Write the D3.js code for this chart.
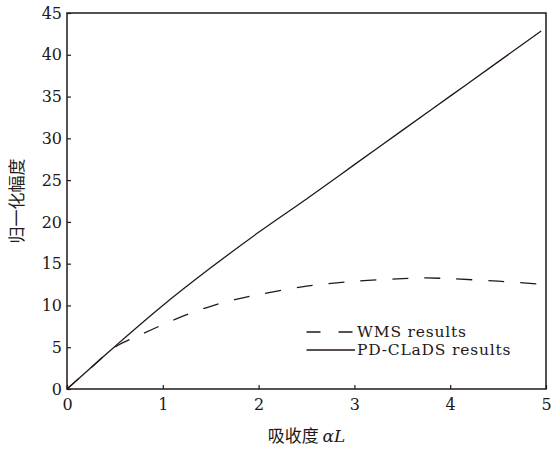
<!DOCTYPE html>
<html><head><meta charset="utf-8">
<script src="https://d3js.org/d3.v7.min.js"></script>
<style>body{margin:0;background:#fff} .num{font-family:"DejaVu Serif",serif}</style>
</head><body><div id="c"></div>
<script>
const alphaL = [0,0.25,0.5,0.75,1,1.25,1.5,1.75,2,2.5,3,3.5,3.75,4,4.5,5];
const wms    = [0,2.55,5.0,6.4,7.7,8.9,9.9,10.7,11.3,12.3,12.9,13.2,13.3,13.2,12.9,12.5];
const pdX    = [0,0.5,1,1.5,2,2.5,3,3.5,4,4.5,4.95];
const pdY    = [0,5.1,10.0,14.5,18.75,22.75,26.85,30.95,35.05,39.15,42.85];
const xTicks = [0,1,2,3,4,5];
const yTicks = [0,5,10,15,20,25,30,35,40,45];
const legendLabels = ["WMS results","PD-CLaDS results"];

const W=552,H=449, m={l:67,r:6,t:13,b:60};
const ink="#231815";
const svg=d3.select("#c").append("svg").attr("width",W).attr("height",H);
const x=d3.scaleLinear().domain([0,5]).range([m.l,W-m.r]);
const y=d3.scaleLinear().domain([0,45]).range([H-m.b,m.t]);
const num="DejaVu Serif";

svg.append("rect").attr("x",x(0)).attr("y",y(45)).attr("width",x(5)-x(0)).attr("height",y(0)-y(45))
  .attr("fill","none").attr("stroke",ink).attr("stroke-width",1.5);

const xa=svg.append("g").attr("transform",`translate(0,${y(0)})`)
  .call(d3.axisBottom(x).tickValues(xTicks).tickFormat(d3.format("d")).tickSizeInner(-4).tickSizeOuter(0).tickPadding(10));
const ya=svg.append("g").attr("transform",`translate(${x(0)},0)`)
  .call(d3.axisLeft(y).tickValues(yTicks).tickFormat(d3.format("d")).tickSizeInner(-4).tickSizeOuter(0).tickPadding(5));
[xa,ya].forEach(g=>{
  g.attr("font-family",num).attr("font-size",16);
  g.select(".domain").remove();
  g.selectAll("line").attr("stroke",ink).attr("stroke-width",1.2);
  g.selectAll("text").attr("fill",ink).attr("class","num");
});
xa.selectAll("text").attr("dy","0.71em");

const line=d3.line().x(d=>x(d[0])).y(d=>y(d[1])).curve(d3.curveCatmullRom);
svg.append("path").datum(d3.zip(pdX,pdY)).attr("d",line)
  .attr("fill","none").attr("stroke",ink).attr("stroke-width",1.3);
svg.append("path").datum(d3.zip(alphaL,wms)).attr("d",line)
  .attr("fill","none").attr("stroke",ink).attr("stroke-width",1.3).attr("stroke-dasharray","16,16");

const lg=svg.append("g").attr("font-family",num).attr("font-size",15.5);
const rows=[{y:332,dash:"14,18"},{y:350,dash:null}];
rows.forEach((r,i)=>{
  lg.append("line").attr("x1",306.5).attr("x2",355).attr("y1",r.y).attr("y2",r.y)
    .attr("stroke",ink).attr("stroke-width",1.3).attr("stroke-dasharray",r.dash);
  lg.append("text").attr("class","num").attr("x",357).attr("y",r.y).attr("dy","0.35em").text(legendLabels[i])
    .attr("fill",ink).attr("letter-spacing",0.8);
});

const xt=svg.append("text").attr("x",(x(0)+x(5))/2).attr("y",436).attr("dy","0.35em")
  .attr("text-anchor","middle").attr("fill",ink).attr("font-size",17);
xt.append("tspan").text("吸收度 ").attr("font-family","Noto Sans CJK SC");
xt.append("tspan").text("αL").attr("class","num").attr("font-style","italic");

svg.append("text").attr("transform",`translate(17,${(y(0)+y(45))/2}) rotate(-90)`)
  .attr("text-anchor","middle").attr("dy","0.35em").attr("fill",ink)
  .attr("font-family","Noto Sans CJK SC").attr("font-size",17).text("归一化幅度");
</script></body></html>
